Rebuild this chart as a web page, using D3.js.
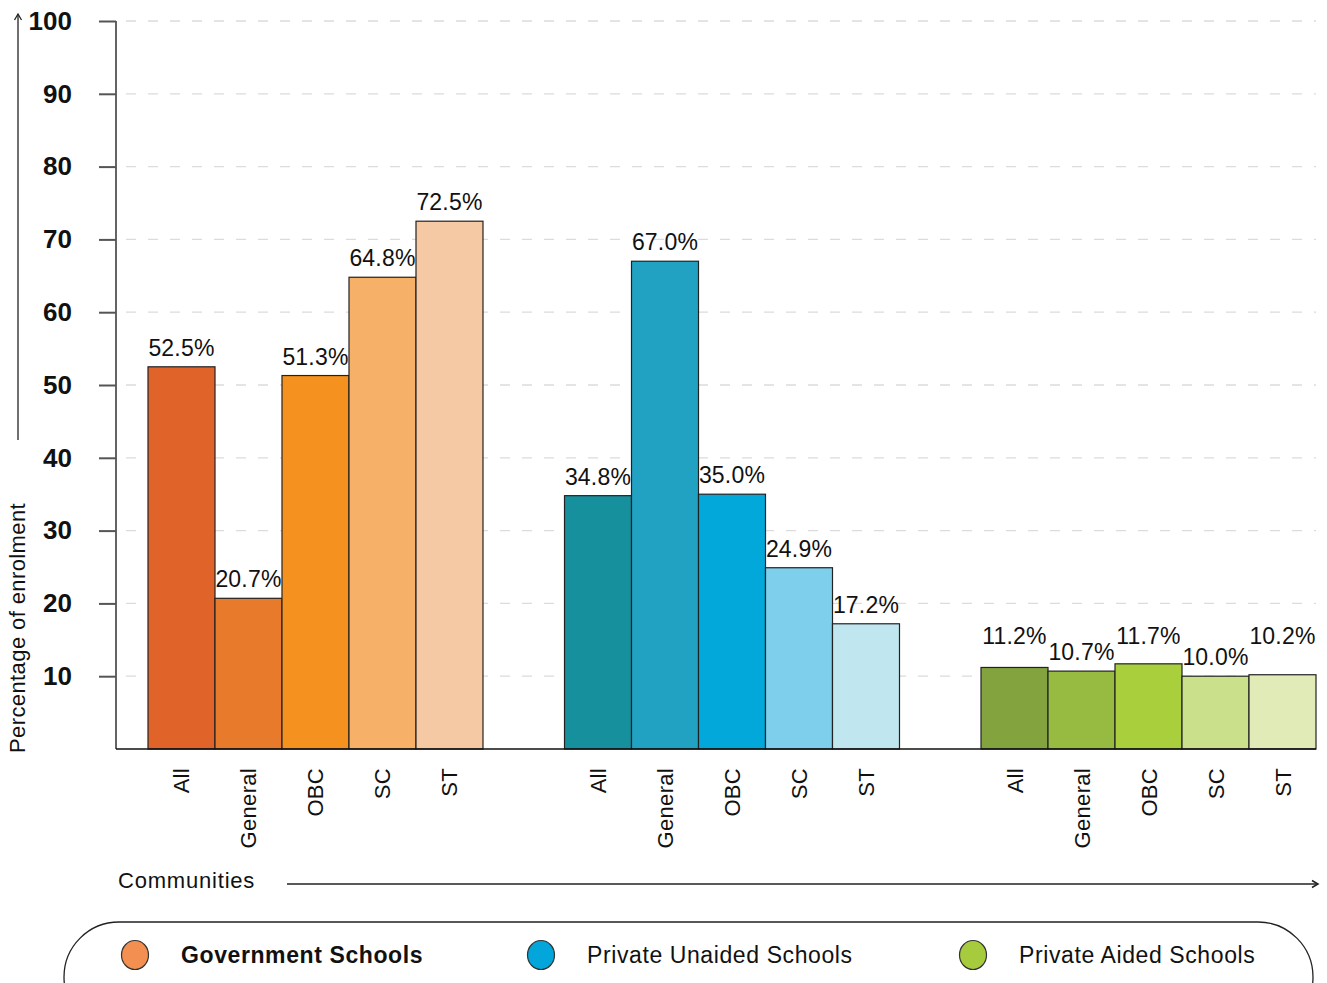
<!DOCTYPE html>
<html>
<head>
<meta charset="utf-8">
<script src="https://cdn.jsdelivr.net/npm/d3@7"></script>
<style>
  body { margin: 0; background: #fff; }
  svg { font-family: "Liberation Sans", Arial, sans-serif; display: block; }
</style>
</head>
<body>
<svg id="chart" width="1327" height="983"></svg>
<script>
var groups = ["Government Schools", "Private Unaided Schools", "Private Aided Schools"];
var categories = ["All", "General", "OBC", "SC", "ST"];
var govValues = [52.5, 20.7, 51.3, 64.8, 72.5];
var unaidedValues = [34.8, 67.0, 35.0, 24.9, 17.2];
var aidedValues = [11.2, 10.7, 11.7, 10.0, 10.2];
var yTicks = [10, 20, 30, 40, 50, 60, 70, 80, 90, 100];

var govColors = ["#e0632a", "#e87b2b", "#f5921f", "#f7b067", "#f5c9a3"];
var unaidedColors = ["#17909d", "#22a2c3", "#02a8d9", "#7ecfec", "#c0e6f0"];
var aidedColors = ["#83a33e", "#97bb40", "#a9cf3d", "#cbe08a", "#e1ebb8"];
var legendColors = ["#f48f52", "#03a6da", "#a6cb3c"];

var series = [
    {name: groups[0], values: govValues, colors: govColors},
    {name: groups[1], values: unaidedValues, colors: unaidedColors},
    {name: groups[2], values: aidedValues, colors: aidedColors}
];

var svg = d3.select("svg#chart");

var y = d3.scaleLinear().domain([0, 100]).range([749, 21]);

var x0 = d3.scaleBand()
            .domain(groups)
            .range([148, 1316])
            .paddingInner(0.1957)
            .paddingOuter(0);

var x1 = d3.scaleBand()
            .domain(categories)
            .range([0, x0.bandwidth()])
            .padding(0);

// gridlines
svg.append("g")
    .selectAll("line")
    .data(yTicks)
    .enter()
    .append("line")
    .attr("x1", 126)
    .attr("x2", 1316)
    .attr("y1", d => y(d))
    .attr("y2", d => y(d))
    .attr("stroke", "#dcdcdc")
    .attr("stroke-width", 1.3)
    .attr("stroke-dasharray", "10,12");

// y axis
var yAxis = svg.append("g")
    .attr("transform", "translate(116,0)")
    .call(d3.axisLeft(y).tickValues(yTicks).tickSize(17).tickSizeOuter(0).tickPadding(27));
yAxis.select(".domain").attr("stroke", "#111").attr("stroke-width", 1.3)
    .attr("d", "M0," + y(100) + "V" + y(0));
yAxis.selectAll(".tick line").attr("stroke", "#555").attr("stroke-width", 2);
yAxis.selectAll(".tick text")
    .attr("font-size", 26)
    .attr("font-weight", "bold")
    .attr("fill", "#111")
    .attr("font-family", "'Liberation Sans', Arial, sans-serif");

// bars
var gGroups = svg.selectAll("g.group")
    .data(series)
    .enter()
    .append("g")
    .attr("class", "group")
    .attr("transform", d => "translate(" + x0(d.name) + ",0)");

gGroups.selectAll("rect")
    .data(d => d.values.map((v, i) => ({cat: categories[i], v: v, color: d.colors[i]})))
    .enter()
    .append("rect")
    .attr("x", d => x1(d.cat))
    .attr("y", d => y(d.v))
    .attr("width", x1.bandwidth())
    .attr("height", d => y(0) - y(d.v))
    .attr("fill", d => d.color)
    .attr("stroke", "#222")
    .attr("stroke-width", 1.2);

// value labels (staggered where bars are nearly level)
gGroups.each(function(s) {
    var g = d3.select(this);
    var top = y(d3.max(s.values));
    var crowded = d3.max(s.values) - d3.min(s.values) < 3;
    g.selectAll("text.val")
        .data(s.values)
        .enter()
        .append("text")
        .attr("class", "val")
        .attr("x", (d, i) => x1(categories[i]) + x1.bandwidth() / 2)
        .attr("y", (d, i) => (crowded && i % 2 === 0) ? top - 20 : y(d) - 11)
        .attr("text-anchor", "middle")
        .attr("font-size", 23)
        .attr("letter-spacing", 0.2)
        .attr("fill", "#111")
        .text(d => d.toFixed(1) + "%");

    g.selectAll("text.cat")
        .data(categories)
        .enter()
        .append("text")
        .attr("class", "cat")
        .attr("transform", d => "translate(" + (x1(d) + x1.bandwidth() / 2 + 8) + ",768) rotate(-90)")
        .attr("text-anchor", "end")
        .attr("font-size", 22)
        .attr("letter-spacing", 0.3)
        .attr("fill", "#111")
        .text(d => d);
});

// baseline
svg.append("line")
    .attr("x1", 116).attr("x2", 1316)
    .attr("y1", y(0)).attr("y2", y(0))
    .attr("stroke", "#111").attr("stroke-width", 1.3);

// y title with arrow
svg.append("text")
    .attr("transform", "translate(25,753) rotate(-90)")
    .attr("font-size", 22)
    .attr("letter-spacing", 0.4)
    .attr("fill", "#111")
    .text("Percentage of enrolment");
svg.append("line")
    .attr("x1", 18).attr("x2", 18).attr("y1", 440).attr("y2", 15)
    .attr("stroke", "#222").attr("stroke-width", 1.3);
svg.append("path")
    .attr("d", "M14.5,20 L18,14 L21.5,20")
    .attr("fill", "none").attr("stroke", "#222").attr("stroke-width", 1.3);

// x title with arrow
svg.append("text")
    .attr("x", 118).attr("y", 888)
    .attr("font-size", 22)
    .attr("letter-spacing", 0.8)
    .attr("fill", "#111")
    .text("Communities");
svg.append("line")
    .attr("x1", 287).attr("x2", 1317).attr("y1", 884).attr("y2", 884)
    .attr("stroke", "#222").attr("stroke-width", 1.3);
svg.append("path")
    .attr("d", "M1312,880.5 L1318,884 L1312,887.5")
    .attr("fill", "none").attr("stroke", "#222").attr("stroke-width", 1.5);

// legend
svg.append("rect")
    .attr("x", 64).attr("y", 922)
    .attr("width", 1249).attr("height", 110)
    .attr("rx", 55).attr("ry", 55)
    .attr("fill", "none").attr("stroke", "#222").attr("stroke-width", 1.3);

var legendX = [135, 541, 973];
var leg = svg.selectAll("g.leg")
    .data(groups)
    .enter()
    .append("g")
    .attr("class", "leg")
    .attr("transform", (d, i) => "translate(" + legendX[i] + ",955)");
leg.append("ellipse")
    .attr("rx", 13.5).attr("ry", 14.5)
    .attr("fill", (d, i) => legendColors[i])
    .attr("stroke", "#333").attr("stroke-width", 1.2);
leg.append("text")
    .attr("x", 46).attr("y", 8)
    .attr("font-size", 23)
    .attr("letter-spacing", 0.6)
    .attr("font-weight", (d, i) => i === 0 ? "bold" : "normal")
    .attr("fill", "#111")
    .text(d => d);
</script>
</body>
</html>
